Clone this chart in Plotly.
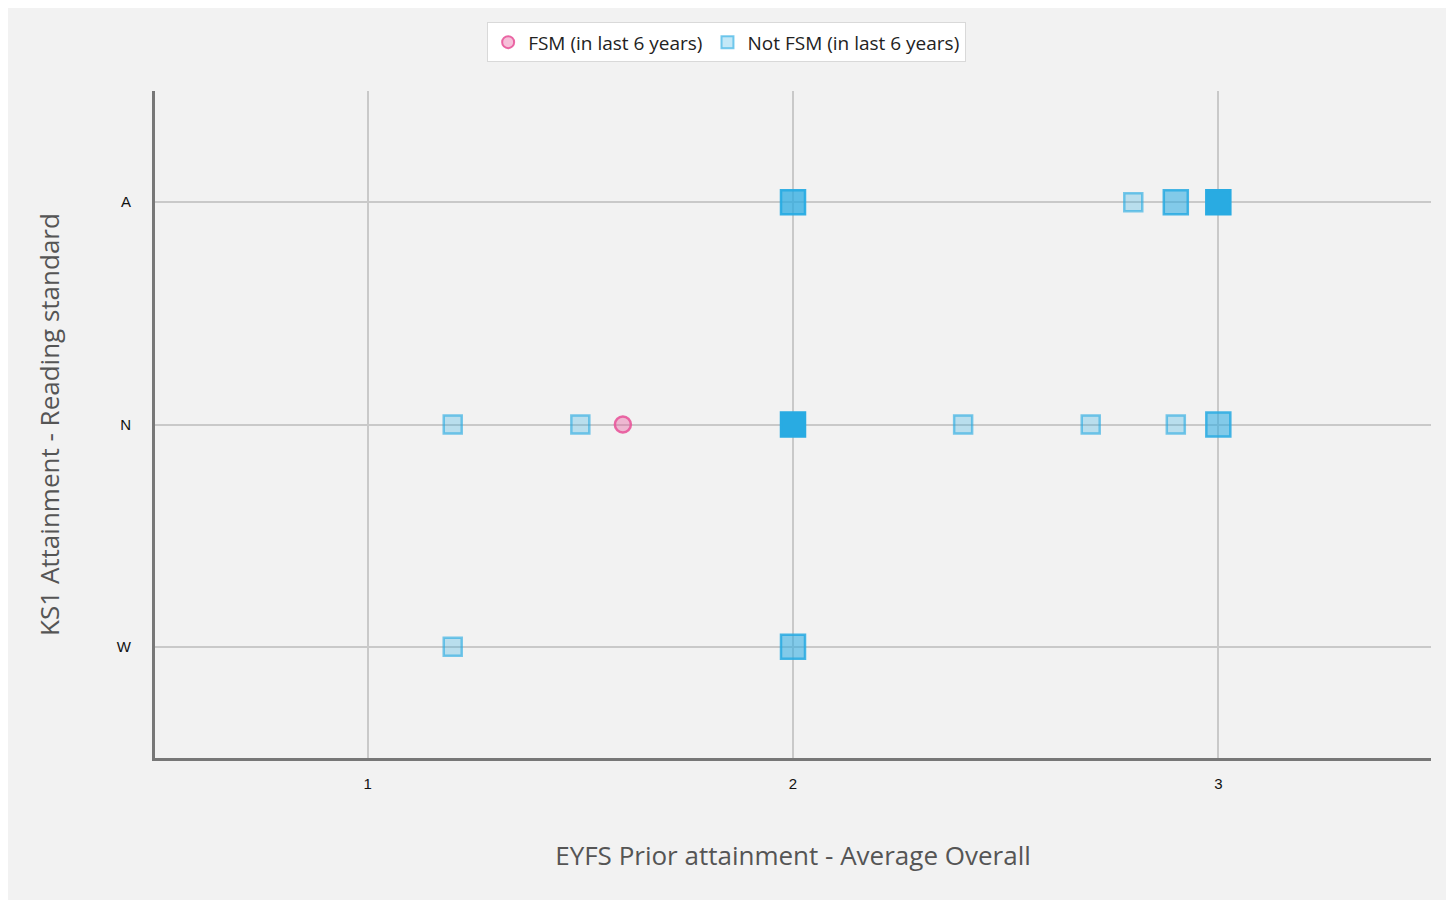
import plotly.graph_objects as go

# ---- data ----
fsm_x = [1.6]
fsm_y = ["N"]

notfsm_x = [2.8, 2.0, 2.9, 3.0, 1.2, 1.5, 2.0, 2.4, 2.7, 2.9, 3.0, 1.2, 2.0]
notfsm_y = ["A", "A", "A", "A", "N", "N", "N", "N", "N", "N", "N", "W", "W"]
notfsm_n = [1, 3, 2, 12, 1, 1, 10, 1, 1, 1, 2, 1, 2]

categories = ["W", "N", "A"]
x_ticks = [1, 2, 3]

BLUE = (41, 171, 226)


def fill(n, a=0.28):
    alpha = 1 - (1 - a) ** (n ** 1.3)
    return f"rgba({BLUE[0]},{BLUE[1]},{BLUE[2]},{alpha:.3f})"


def edge(n, a=0.62):
    alpha = 1 - (1 - a) ** n
    return f"rgba({BLUE[0]},{BLUE[1]},{BLUE[2]},{alpha:.3f})"


sizes = [18 if n == 1 else 24 for n in notfsm_n]

fig = go.Figure()

fig.add_trace(go.Scatter(
    x=fsm_x, y=fsm_y, mode="markers", name="FSM (in last 6 years)",
    marker=dict(symbol="circle", size=16,
                color="rgba(232,88,155,0.38)",
                line=dict(color="rgba(232,88,155,0.9)", width=2.5)),
))

fig.add_trace(go.Scatter(
    x=notfsm_x, y=notfsm_y, mode="markers", name="Not FSM (in last 6 years)",
    marker=dict(symbol="square", size=sizes, opacity=1,
                color=[fill(n) for n in notfsm_n],
                line=dict(color=[edge(n) for n in notfsm_n], width=2.5)),
))

fig.update_layout(
    width=1438, height=892,
    paper_bgcolor="#f2f2f2", plot_bgcolor="#f2f2f2",
    margin=dict(l=147, r=15, t=83, b=142),
    font=dict(family="'Open Sans', Lato, sans-serif", color="#222"),
    legend=dict(orientation="h", x=0.448, xanchor="center", y=1.103, yanchor="top",
                bgcolor="white", bordercolor="#d9d9d9", borderwidth=1,
                font=dict(size=19, color="#222"), itemsizing="constant"),
    xaxis=dict(range=[0.5, 3.5], tickvals=x_ticks, ticktext=[str(t) for t in x_ticks],
               showgrid=True, gridcolor="#c9c9c9", gridwidth=1.5, zeroline=False,
               showline=True, linecolor="#777777", linewidth=3,
               ticks="", ticklabelstandoff=10,
               tickfont=dict(family="Liberation Sans, Arial", size=15, color="#111"),
               title=dict(text="EYFS Prior attainment - Average Overall", standoff=56,
                          font=dict(size=26, color="#555"))),
    yaxis=dict(type="category", categoryorder="array", categoryarray=categories,
               range=[-0.5, 2.5],
               showgrid=True, gridcolor="#c9c9c9", gridwidth=1.5, zeroline=False,
               showline=True, linecolor="#777777", linewidth=3,
               ticks="", ticklabelstandoff=18,
               tickfont=dict(family="Liberation Sans, Arial", size=15, color="#111"),
               title=dict(text="KS1 Attainment - Reading standard", standoff=50,
                          font=dict(size=26, color="#555"))),
)

fig.write_html("out.html")
